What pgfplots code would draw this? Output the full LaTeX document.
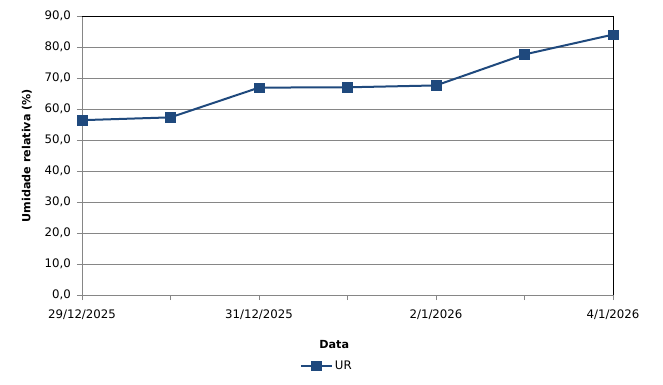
\documentclass[border=0pt]{standalone}
\usepackage{fontspec}
\setmainfont{DejaVu Sans}
\usepackage{pgfplots}
\pgfplotsset{compat=1.18}
\definecolor{serie}{RGB}{31,73,125}
\definecolor{gridg}{RGB}{134,134,134}
\begin{document}
\fontsize{11.8}{13}\selectfont
\begin{tikzpicture}
\path[use as bounding box] (-82bp,-90bp) rectangle (581bp,295bp);
\begin{axis}[
  scale only axis,
  width=531bp, height=279bp,
  xmin=0, xmax=6, ymin=0, ymax=90,
  axis x line*=bottom, axis y line*=left,
  axis line style={gridg, line width=0.8pt},
  xtick={0,1,2,3,4,5,6},
  xticklabels={29/12/2025,,31/12/2025,,2/1/2026,,4/1/2026},
  ytick={0,10,...,90},
  ymajorgrids,
  grid style={gridg, line width=0.8pt},
  tick align=outside,
  major tick length=5bp,
  tick style={gridg, line width=0.8pt},
  yticklabel style={xshift=-2bp, /pgf/number format/.cd, fixed, fixed zerofill, precision=1, use comma, assume math mode=true},
  xticklabel style={yshift=-6bp},
  ylabel={\fontsize{11.2}{13}\selectfont\bfseries Umidade relativa (\%)},
  ylabel style={at={(axis description cs:-0.104,0.5)}, anchor=center},
  xlabel={\fontsize{11.2}{13}\selectfont\bfseries Data},
  xlabel style={at={(axis description cs:0.475,-0.176)}, anchor=center},
  legend style={at={(axis description cs:0.461,-0.254)}, anchor=center, draw=none, fill=none, inner sep=1pt},
  legend image code/.code={\draw[mark repeat=2,mark phase=2] plot coordinates {(0bp,0bp) (15.5bp,0bp) (31bp,0bp)};},
  legend cell align=left,
  clip=false,
]
\addplot[serie, line width=2bp, mark=square*, mark size=4.8bp, mark options={solid, fill=serie, draw=serie, line width=0.4pt}]
  coordinates {(0,56.4) (1,57.3) (2,66.9) (3,67.0) (4,67.6) (5,77.6) (6,84.0)};
\addlegendentry{UR}
\draw[black, line width=0.8pt] (rel axis cs:0,1) -- (rel axis cs:1,1) -- (rel axis cs:1,0);
\end{axis}
\end{tikzpicture}
\end{document}
